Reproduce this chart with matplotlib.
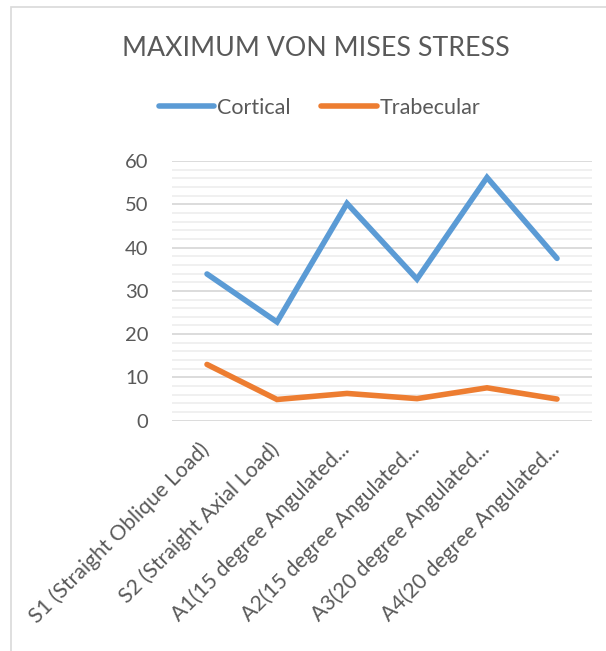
import numpy as np
import matplotlib.pyplot as plt
from matplotlib.patches import Rectangle
from matplotlib.ticker import MultipleLocator
from matplotlib.transforms import ScaledTranslation

plt.rcParams['font.family'] = ['Lato', 'DejaVu Sans']

categories = ['S1 (Straight Oblique Load)', 'S2 (Straight Axial Load)',
              'A1(15 degree Angulated...', 'A2(15 degree Angulated...',
              'A3(20 degree Angulated...', 'A4(20 degree Angulated...']
cortical = [33.9, 22.8, 50.2, 32.7, 56.2, 37.5]
trabecular = [13.0, 4.9, 6.3, 5.1, 7.6, 5.0]

blue = '#5B9BD5'
orange = '#ED7D31'
grey = '#595959'

fig = plt.figure(figsize=(6.06, 6.51), dpi=100)
ax = fig.add_axes([172 / 606, 1 - 420.7 / 651, 420 / 606, 259.7 / 651])

x = np.arange(len(categories))
ax.plot(x, cortical, color=blue, lw=4, solid_capstyle='round', solid_joinstyle='miter', label='Cortical')
ax.plot(x, trabecular, color=orange, lw=4, solid_capstyle='round', solid_joinstyle='miter', label='Trabecular')

ax.set_xlim(-0.5, len(categories) - 0.5)
ax.set_ylim(0, 60)
ax.yaxis.set_major_locator(MultipleLocator(10))
ax.yaxis.set_minor_locator(MultipleLocator(2))
ax.grid(which='major', axis='y', color='#D9D9D9', lw=1.3)
ax.grid(which='minor', axis='y', color='#EFEFEF', lw=1.3)
ax.set_axisbelow(True)
for s in ax.spines.values():
    s.set_visible(False)
ax.tick_params(axis='both', which='both', length=0)
ax.tick_params(axis='y', labelsize=14.5, labelcolor=grey, pad=17)
ax.set_xticks(x)
ax.set_xticklabels(categories, rotation=45, ha='right', rotation_mode='anchor',
                   fontsize=15.3, color=grey)
ax.tick_params(axis='x', pad=9)
# nudge the slanted labels a little down-left, like the original
shift = ScaledTranslation(-0.08, -0.06, fig.dpi_scale_trans)
for lbl in ax.get_xticklabels():
    lbl.set_transform(lbl.get_transform() + shift)

fig.text(0.522, 1 - 48 / 651, 'MAXIMUM VON MISES STRESS', ha='center', va='center',
         fontsize=19.3, color=grey)
fig.legend(loc='center', bbox_to_anchor=(0.527, 1 - 108 / 651), ncol=2, frameon=False,
           fontsize=15.5, labelcolor=grey, handlelength=2.6, handletextpad=0.1,
           columnspacing=1.45)

fig.patches.append(Rectangle((11 / 606, -0.01), 1.0, 1 - 7 / 651 + 0.01, transform=fig.transFigure,
                             fill=False, edgecolor='#D9D9D9', lw=1.2))

fig.savefig('out.png', dpi=100)
